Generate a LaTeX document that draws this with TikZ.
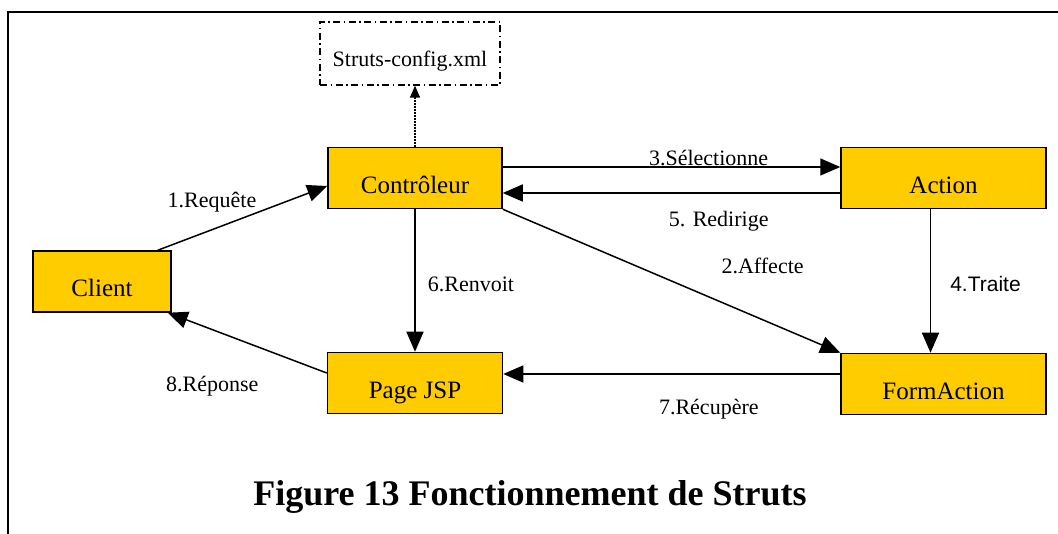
\documentclass[tikz,border=0pt]{standalone}
\usepackage{fontspec}
\setmainfont{Liberation Serif}
\setsansfont{Liberation Sans}
\usetikzlibrary{arrows.meta}
\definecolor{boxyellow}{RGB}{255,204,0}

\begin{document}
\begin{tikzpicture}[x=1pt,y=1pt,->,>={Triangle[length=20pt,width=17pt]},line width=1.5pt,
                    box node/.style={rectangle,draw,fill=boxyellow,line width=1.5pt,minimum height=61pt,
                                     text height=31pt,text depth=0pt,font=\fontsize{25}{30}\selectfont},
                    step label/.style={font=\fontsize{22}{26}\selectfont}]

\useasboundingbox (0,0) rectangle (1058,-534);
\draw[-,line width=2pt] (7.5,-534) -- (7.5,-12) -- (1058,-12);

\node[box node,minimum width=174pt] (ctrl) at (415,-178) {Contrôleur};
\node[box node,minimum width=205pt] (action) [right of=ctrl,node distance=528.5pt] {Action};
\node[box node,minimum width=205pt] (form) [below of=action,node distance=206pt] {FormAction};
\node[box node,minimum width=175pt] (jsp) [below of=ctrl,node distance=205pt] {Page JSP};
\node[box node,minimum width=138pt] (client) at (102,-281.5) {Client};
\node[draw,line width=1.4pt,dash pattern=on 7pt off 3.5pt on 1.5pt off 3.5pt,minimum width=180pt,minimum height=63pt,
      text height=26pt,text depth=0pt,font=\fontsize{22}{26}\selectfont] (struts)
      [above of=ctrl,node distance=124.5pt,xshift=-5pt] {Struts-config.xml};
\node[font=\bfseries\fontsize{36}{42}\selectfont,anchor=base] (caption) at (530,-505) {Figure 13 Fonctionnement de Struts};

\path[every node/.style={step label}]
(ctrl.north) edge[dash pattern=on 1.5pt off 1.5pt,>={Triangle[length=12pt,width=10pt]}] (ctrl.north |- struts.south)
([xshift=-14pt]client.north east) edge node[pos=.32,yshift=27pt] {1.Requête} ([yshift=-8pt]ctrl.west)
([yshift=11pt]ctrl.east) edge node[pos=.61,yshift=9pt] {3.Sélectionne} ([yshift=11pt]ctrl.east -| action.west)
([yshift=-15pt]action.west) edge node[pos=.36,yshift=-28pt] {5. Redirige} ([yshift=-15pt]action.west -| ctrl.east)
(ctrl.south east) edge node[pos=.77,yshift=54pt] {2.Affecte} (form.north west)
([xshift=-13pt]action.south) edge node[pos=.52,xshift=55pt,font=\sffamily\fontsize{21}{25}\selectfont] {4.Traite} ([xshift=-13pt]action.south |- form.north)
(ctrl.south) edge node[pos=.53,xshift=56pt] {6.Renvoit} (jsp.north)
([yshift=10pt]form.west) edge node[pos=.39,yshift=-35pt] {7.Récupère} ([yshift=10pt]form.west -| jsp.east)
([yshift=10pt]jsp.west) edge node[pos=.72,yshift=-57pt] {8.Réponse} ([xshift=-4pt]client.south east);
\end{tikzpicture}
\end{document}
